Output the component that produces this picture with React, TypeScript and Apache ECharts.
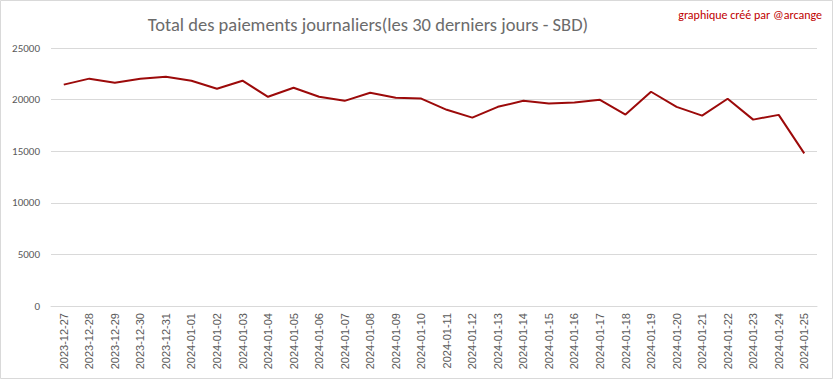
import React, { useEffect, useRef } from "react";
import * as echarts from "echarts";

const dates = [
  "2023-12-27", "2023-12-28", "2023-12-29", "2023-12-30", "2023-12-31",
  "2024-01-01", "2024-01-02", "2024-01-03", "2024-01-04", "2024-01-05",
  "2024-01-06", "2024-01-07", "2024-01-08", "2024-01-09", "2024-01-10",
  "2024-01-11", "2024-01-12", "2024-01-13", "2024-01-14", "2024-01-15",
  "2024-01-16", "2024-01-17", "2024-01-18", "2024-01-19", "2024-01-20",
  "2024-01-21", "2024-01-22", "2024-01-23", "2024-01-24", "2024-01-25",
];

const payments = [
  21450, 22030, 21640, 22020, 22220,
  21830, 21050, 21830, 20270, 21150,
  20270, 19880, 20660, 20180, 20100,
  19010, 18250, 19300, 19880, 19620,
  19720, 19980, 18550, 20760, 19300,
  18450, 20080, 18060, 18520, 14790,
];

const titleText = "Total des paiements journaliers(les 30 derniers jours - SBD)";
const creditText = "graphique créé par @arcange";

export default function App() {
  const ref = useRef<HTMLDivElement>(null);
  useEffect(() => {
    document.body.style.margin = "0";
    const chart = echarts.init(ref.current!, null, { renderer: "svg" });
    chart.setOption({
      animation: false,
      backgroundColor: "#ffffff",
      grid: { left: 51, right: 16, top: 48, bottom: 73, containLabel: false },
      title: {
        text: titleText,
        left: 363,
        textAlign: "center",
        top: 10,
        textStyle: {
          fontFamily: "Carlito, 'Liberation Sans Narrow', 'Open Sans', sans-serif",
          fontSize: 18.5,
          fontWeight: "normal",
          color: "#6b6b6b",
        },
      },
      graphic: [
        {
          type: "rect",
          shape: { x: 0.5, y: 0.5, width: 832, height: 378 },
          style: { fill: "none", stroke: "#d9d9d9", lineWidth: 1 },
          silent: true,
        },
        {
          type: "text",
          right: 11,
          top: 9,
          style: {
            text: creditText,
            fill: "#c00000",
            fontSize: 12,
            fontFamily: "Carlito, 'Open Sans', sans-serif",
          },
        },
      ],
      xAxis: {
        type: "category",
        data: dates,
        boundaryGap: true,
        axisLine: { show: true, lineStyle: { color: "#d9d9d9", width: 1 } },
        axisTick: { show: false },
        axisLabel: {
          rotate: 90,
          interval: 0,
          margin: 7,
          color: "#595959",
          fontSize: 11,
          fontFamily: "'Liberation Sans', sans-serif",
        },
      },
      yAxis: {
        type: "value",
        min: 0,
        max: 25000,
        interval: 5000,
        axisLine: { show: false },
        axisTick: { show: false },
        splitLine: { lineStyle: { color: "#d9d9d9", width: 1 } },
        axisLabel: {
          color: "#595959",
          fontSize: 11,
          margin: 11,
          fontFamily: "Carlito, 'Liberation Sans', sans-serif",
          formatter: (v: number) => String(v),
        },
      },
      series: [
        {
          type: "line",
          data: payments,
          symbol: "none",
          lineStyle: { color: "#9c0a0a", width: 2 },
          itemStyle: { color: "#9c0a0a" },
        },
      ],
    });
    return () => chart.dispose();
  }, []);
  return <div ref={ref} style={{ width: 833, height: 379 }} />;
}
